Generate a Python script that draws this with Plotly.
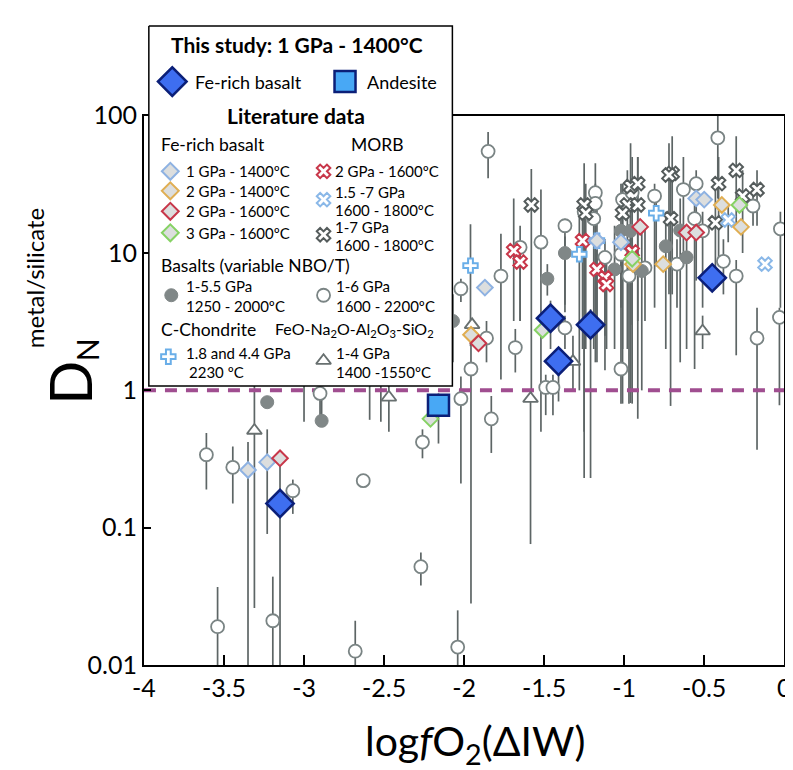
import plotly.graph_objects as go

# ---------------- data (log fO2 ΔIW, D_N metal/silicate, error-bar low/high) ----------------
# Literature: Basalts (variable NBO/T) 1-6 GPa, 1600-2200 °C (open circles)
oc_x = [-1.85, -1.65, -1.52, -2.02, -1.77, -1.37, -1.18, -1.18, -1.25, -1.19, -1.12, -1.01, -0.95,
        -1.02, -0.97, -0.87, -0.81, -0.67, -0.63, -0.55, -0.56, -0.51, -0.415, -0.38, -0.30, -0.195,
        -0.024, -0.03, -0.17, -1.37, -1.68, -1.02, -1.49, -1.445, -2.02, -1.83, -1.957, -1.86, -2.90,
        -3.61, -3.445, -3.07, -2.63, -2.26, -2.27, -3.54, -3.195, -2.68, -2.04,
        -3.00, -2.59, -2.52]
oc_y = [55, 11, 12, 5.5, 6.8, 15.8, 27.5, 23, 20, 17.8, 9.3, 24.5, 27.5,
        9.8, 6.8, 7.8, 26, 8.3, 29, 32, 17.8, 14.5, 69, 8.7, 6.8, 22,
        15, 3.4, 2.4, 2.85, 2.05, 1.43, 1.05, 1.05, 0.87, 0.62, 1.43, 2.4, 0.95,
        0.34, 0.275, 0.186, 0.22, 0.42, 0.052, 0.019, 0.021, 0.0126, 0.0135,
        4.0, 5.0, 3.0]
oc_lo = [35, 3.2, 0.5, 4.4, 1.2, 3.7, 3.2, 1.6, 0.5, 2.0, 1.4, 2.0, 0.8,
         4.0, 0.8, 3.2, 4.0, 4.0, 8, 6.3, 1.43, 4.0, 25, 5.0, 1.8, 15.8,
         4.0, 0.78, 0.37, 2.0, 1.35, 1.43, 0.66, 0.66, 0.21, 0.35, 0.028, 1.6, 0.59,
         0.19, 0.15, 0.126, 0.22, 0.32, 0.038, 0.01, 0.01, 0.01, 0.01,
         0.59, 0.61, 0.59]
oc_hi = [76, 15.8, 29, 6.5, 13.8, 17.8, 45, 32, 25, 25, 12.6, 32, 50,
         12.6, 12.6, 15.8, 32, 12.6, 50, 40, 25, 20, 100, 12.6, 8.9, 28,
         20, 4.0, 4.0, 3.5, 2.8, 1.43, 1.3, 1.3, 1.26, 0.91, 2.2, 3.2, 1.12,
         0.49, 0.39, 0.224, 0.22, 0.52, 0.066, 0.037, 0.044, 0.021, 0.025,
         4.0, 5.0, 3.0]

# Basalts (variable NBO/T) 1-5.5 GPa, 1250-2000 °C (filled circles)
fc_x = [-1.48, -1.37, -1.06, -1.02, -0.96, -0.89, -0.74, -0.65, -0.61, -2.07, -3.23, -2.89]
fc_y = [6.5, 10, 7.6, 14.5, 14.5, 7.4, 11.2, 14.6, 9.3, 3.2, 0.82, 0.6]
fc_lo = [4.9, 4.2, 2.0, 0.8, 1.0, 1.0, 2.0, 1.6, 2.0, 1.6, 0.82, 0.6]
fc_hi = [8.3, 13.2, 15.8, 32, 32, 15.8, 20, 25, 15.8, 5.0, 0.82, 0.95]

# MORB 1-7 GPa, 1600-1800 °C (dark crosses)
dx_x = [-1.58, -1.25, -1.24, -0.96, -0.915, -0.98, -0.915, -1.01, -0.71, -0.70, -0.72,
        -0.41, -0.30, -0.43, -0.26, -0.17]
dx_y = [22.4, 22.4, 19.5, 30.5, 32, 22.4, 22.4, 19.5, 17.8, 38, 37, 32, 40, 16.6, 26, 29]
dx_lo = [0.87, 0.23, 2.0, 0.81, 0.62, 2.0, 3.2, 0.8, 0.77, 5, 5, 8, 15.8, 6.3, 10, 15.8]
dx_hi = [41, 45, 32, 63, 50, 40, 50, 32, 40, 71, 63, 50, 71, 32, 40, 40]

# MORB 2 GPa, 1600 °C (red crosses)
rx_x = [-1.69, -1.65, -1.26, -1.17, -1.12, -1.11, -0.95]
rx_y = [10.4, 8.6, 12.3, 7.6, 6.6, 5.9, 10.2]
rx_lo = [3.2, 3.2, 2.0, 3.0, 2.5, 2.0, 3.0]
rx_hi = [25, 12, 20, 12, 10, 9, 16]

# MORB 1.5-7 GPa, 1600-1800 °C (light blue crosses)
bx_x = [-0.35, -0.12]
bx_y = [17.4, 8.3]
bx_lo = [12, 8.3]
bx_hi = [22, 8.3]

# C-Chondrite 1.8 and 4.4 GPa, 2230 °C (plus)
cp_x = [-1.96, -1.28, -1.17, -0.80]
cp_y = [8.1, 9.8, 12.3, 19.5]
cp_lo = [2.1, 1.0, 1.6, 8]
cp_hi = [16.2, 20, 25, 25]

# Fe-rich basalt literature (diamonds)
d1_x = [-1.87, -1.17, -1.02, -0.55, -0.50, -3.35, -3.23]
d1_y = [5.6, 12.3, 12, 25, 24.5, 0.263, 0.30]
d1_lo = [5.6, 12.3, 12, 25, 24.5, 0.01, 0.09]
d1_hi = [5.6, 12.3, 12, 25, 24.5, 0.42, 0.52]
d2_x = [-0.945, -0.756, -0.39, -0.27, -1.957]
d2_y = [8.3, 8.3, 22.4, 15.5, 2.54]
d3_x = [-0.90, -0.61, -0.55, -1.91, -3.15]
d3_y = [15.5, 14.1, 14.1, 2.2, 0.32]
d4_x = [-0.95, -0.28, -2.21, -1.51]
d4_y = [9.1, 22.4, 0.62, 2.75]

# FeO-Na2O-Al2O3-SiO2 1-4 GPa, 1400-1550 °C (triangles)
tr_x = [-1.95, -2.47, -3.31, -1.585, -1.32, -0.51]
tr_y = [3.0, 0.89, 0.51, 0.87, 1.62, 2.7]
tr_lo = [3.0, 0.5, 0.026, 0.076, 1.0, 2.0]
tr_hi = [3.0, 2.2, 4.0, 0.87, 2.5, 3.5]

# This study: 1 GPa - 1400 °C
fb_x = [-3.15, -1.46, -1.41, -1.21, -0.45]
fb_y = [0.15, 3.35, 1.63, 3.0, 6.6]
fb_lo = [0.01, 2.0, 0.83, 0.23, 6.6]
fb_hi = [0.3, 4.5, 2.0, 3.9, 6.6]
an_x = [-2.16]
an_y = [0.78]
an_lo = [0.41]
an_hi = [0.95]

x_ticks = [-4, -3.5, -3, -2.5, -2, -1.5, -1, -0.5, 0]
x_ticktext = ["-4", "-3.5", "-3", "-2.5", "-2", "-1.5", "-1", "-0.5", "0"]
y_ticks = [0.01, 0.1, 1, 10, 100]
y_ticktext = ["0.01", "0.1", "1", "10", "100"]

# ---------------- styles ----------------
FONT = "Lato"
BAR = "#5d6565"
GRAYC = "#7a8484"
FILLC = "#808787"
DARKX = "#555c5c"
REDC = "#c8374a"
LBLUE = "#8ab8e8"
PLUSC = "#6aaee8"
DFILL = "#dcdede"
D1C = "#8eb2e2"
D2C = "#e0ae52"
D3C = "#c8374a"
D4C = "#86d264"
TRIC = "#687070"
BIGF = "#3e6ef0"
NAVY = "#0b1f78"
SQF = "#48a8f5"
DASHC = "#a04e90"

fig = go.Figure()


def bars(x, y, lo, hi):
    fig.add_trace(go.Scatter(
        x=x, y=y, mode="markers", marker=dict(size=1, opacity=0), hoverinfo="skip",
        showlegend=False,
        error_y=dict(type="data", symmetric=False,
                     array=[h - v for h, v in zip(hi, y)],
                     arrayminus=[v - l for l, v in zip(lo, y)],
                     color=BAR, thickness=1.7, width=0)))


for s in [(oc_x, oc_y, oc_lo, oc_hi), (fc_x, fc_y, fc_lo, fc_hi), (dx_x, dx_y, dx_lo, dx_hi),
          (rx_x, rx_y, rx_lo, rx_hi), (bx_x, bx_y, bx_lo, bx_hi), (cp_x, cp_y, cp_lo, cp_hi),
          (d1_x, d1_y, d1_lo, d1_hi), (tr_x, tr_y, tr_lo, tr_hi), (fb_x, fb_y, fb_lo, fb_hi),
          (an_x, an_y, an_lo, an_hi)]:
    bars(*s)

# reference line D = 1
fig.add_trace(go.Scatter(x=[-4, 0], y=[1, 1], mode="lines", hoverinfo="skip", showlegend=False,
                         line=dict(color=DASHC, width=4, dash="12px,9px")))


def mk(x, y, symbol, size, fill, edge, lw, xa="x", ya="y"):
    fig.add_trace(go.Scatter(x=x, y=y, mode="markers", showlegend=False, xaxis=xa, yaxis=ya,
                             hoverinfo="skip" if xa == "x2" else None,
                             marker=dict(symbol=symbol, size=size, color=fill,
                                         line=dict(color=edge, width=lw))))


mk(oc_x, oc_y, "circle", 13, "white", GRAYC, 1.8)
mk(fc_x, fc_y, "circle", 13, FILLC, FILLC, 1)
mk(tr_x, tr_y, "triangle-up", 13, "white", TRIC, 1.8)
mk(dx_x, dx_y, "x", 12, "white", DARKX, 2)
mk(rx_x, rx_y, "x", 12, "white", REDC, 2)
mk(bx_x, bx_y, "x", 12, "white", LBLUE, 2)
mk(cp_x, cp_y, "cross", 12, "white", PLUSC, 2)
mk(d1_x, d1_y, "diamond", 12, DFILL, D1C, 2)
mk(d2_x, d2_y, "diamond", 12, DFILL, D2C, 2)
mk(d3_x, d3_y, "diamond", 12, DFILL, D3C, 2)
mk(d4_x, d4_y, "diamond", 12, DFILL, D4C, 2)
mk(an_x, an_y, "square", 21, SQF, NAVY, 2.5)
mk(fb_x, fb_y, "diamond", 21, BIGF, NAVY, 2.5)

# ---------------- legend (drawn in an overlay frame with screen-pixel coordinates) ----------------
L = dict(xa="x2", ya="y2")
fig.add_trace(go.Scatter(x=[132, 443, 443, 132, 132], y=[2, 2, 371, 371, 2], mode="lines",
                         fill="toself", fillcolor="white", line=dict(color="black", width=1.5),
                         hoverinfo="skip", showlegend=False, xaxis="x2", yaxis="y2"))
mk([156], [59], "diamond", 22, BIGF, NAVY, 2.5, **L)
mk([333], [59], "square", 21, SQF, NAVY, 2.5, **L)
mk([154], [151], "diamond", 13, DFILL, D1C, 2, **L)
mk([154], [171], "diamond", 13, DFILL, D2C, 2, **L)
mk([154], [192], "diamond", 13, DFILL, D3C, 2, **L)
mk([154], [214], "diamond", 13, DFILL, D4C, 2, **L)
mk([311], [151], "x", 12, "white", REDC, 2, **L)
mk([311], [180], "x", 12, "white", LBLUE, 2, **L)
mk([311], [216], "x", 12, "white", DARKX, 2, **L)
mk([155], [278], "circle", 13, FILLC, FILLC, 1, **L)
mk([311], [278], "circle", 13, "white", GRAYC, 1.8, **L)
mk([152], [341], "cross", 12, "white", PLUSC, 2, **L)
mk([311], [345], "triangle-up", 13, "white", TRIC, 1.8, **L)

ann = []


def txt(x, y, t, size=15, bold=False, anchor="left"):
    ann.append(dict(x=x, y=y, xref="x2", yref="y2", text=("<b>%s</b>" % t) if bold else t,
                    showarrow=False, xanchor=anchor, yanchor="middle",
                    font=dict(family=FONT, size=size, color="black")))


txt(284, 21, "This study: 1 GPa - 1400°C", 21, True, "center")
txt(177, 59, "Fe-rich basalt", 18)
txt(353, 59, "Andesite", 18)
txt(283, 94, "Literature data", 21, True, "center")
txt(142, 123, "Fe-rich basalt", 17.5)
txt(366, 123, "MORB", 17.5, anchor="center")
txt(168, 151, "1 GPa - 1400ºC")
txt(168, 171, "2 GPa - 1400ºC")
txt(168, 192, "2 GPa - 1600ºC")
txt(168, 214, "3 GPa - 1600ºC")
txt(321, 151, "2 GPa - 1600ºC")
txt(321, 172, "1.5 -7 GPa")
txt(321, 191, "1600 - 1800ºC")
txt(321, 208, "1-7 GPa")
txt(321, 227, "1600 - 1800ºC")
txt(142, 248, "Basalts (variable NBO/T)", 17.5)
txt(168, 269, "1-5.5 GPa")
txt(168, 289, "1250 - 2000ºC")
txt(322, 269, "1-6 GPa")
txt(322, 289, "1600 - 2200ºC")
txt(142, 313, "C-Chondrite", 17.5)
txt(259, 313, "FeO-Na<sub>2</sub>O-Al<sub>2</sub>O<sub>3</sub>-SiO<sub>2</sub>", 16)
txt(168, 337, "1.8 and 4.4 GPa")
txt(171, 357, "2230 ºC")
txt(322, 337, "1-4 GPa")
txt(322, 357, "1400 -1550ºC")

H = 657.0
W = 793.0
# axis titles
ann.append(dict(x=466 / W, y=(H - 737) / H, xref="paper", yref="paper", showarrow=False,
                text="log<i>f</i>O<sub>2</sub>(ΔIW)", xanchor="center", yanchor="middle",
                font=dict(family=FONT, size=41, color="black")))
ann.append(dict(x=50 / W, y=(H - 368) / H, xref="paper", yref="paper", showarrow=False,
                text="D", textangle=-90, xanchor="center", yanchor="middle",
                font=dict(family=FONT, size=58, color="black")))
ann.append(dict(x=68 / W, y=(H - 334) / H, xref="paper", yref="paper", showarrow=False,
                text="N", textangle=-90, xanchor="center", yanchor="middle",
                font=dict(family=FONT, size=30, color="black")))
ann.append(dict(x=15 / W, y=(H - 260) / H, xref="paper", yref="paper", showarrow=False,
                text="metal/silicate", textangle=-90, xanchor="center", yanchor="middle",
                font=dict(family=FONT, size=24, color="black")))

fig.update_layout(
    width=793, height=770, margin=dict(l=0, r=0, t=0, b=113),
    paper_bgcolor="white", plot_bgcolor="rgba(0,0,0,0)", showlegend=False,
    font=dict(family=FONT, color="black"),
    annotations=ann,
    xaxis=dict(domain=[127 / W, 783 / W], range=[-4, 0], anchor="y", tickvals=x_ticks,
               ticktext=x_ticktext, ticks="inside", ticklen=10, tickwidth=1.5, tickcolor="black",
               showline=True, linecolor="black", linewidth=2, mirror=True, showgrid=False,
               zeroline=False, tickfont=dict(family=FONT, size=25, color="black")),
    yaxis=dict(domain=[0, (H - 94) / H], type="log", range=[-2, 2], anchor="x", tickvals=y_ticks,
               ticktext=y_ticktext, ticks="inside", ticklen=7, tickwidth=1.5, tickcolor="black",
               showline=True, linecolor="black", linewidth=2, mirror=True, showgrid=False,
               zeroline=False, tickfont=dict(family=FONT, size=25, color="black")),
    xaxis2=dict(domain=[0, 1], range=[0, W], anchor="y2", visible=False, fixedrange=True),
    yaxis2=dict(domain=[0, 1], range=[H, 0], anchor="x2", visible=False, fixedrange=True),
)

fig.write_html("out.html")
